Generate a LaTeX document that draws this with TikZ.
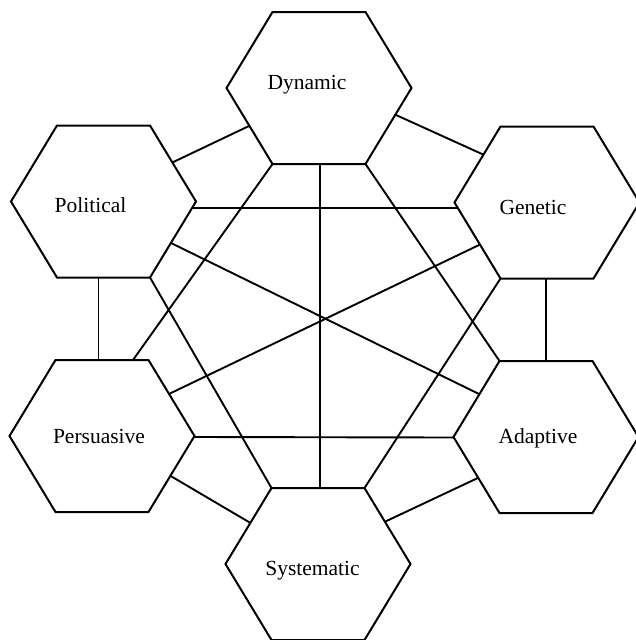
\documentclass[tikz,border=0pt]{standalone}
\usepackage{fontspec}
\setmainfont{Liberation Serif}
\usetikzlibrary{calc,backgrounds}
\begin{document}
\begin{tikzpicture}[x=1pt,y=-1pt,
  hexline/.style={draw=black, fill=white, line width=2pt, line join=miter},
  conn/.style={draw=black, line width=1.9pt, shorten >=-3pt, shorten <=-3pt},
  hextext/.style={font=\fontsize{21.5}{26}\selectfont, inner sep=0pt},
  hexagon/.pic={
    \coordinate (-c) at (0,0);
    \coordinate (-l) at (-92.5,0);
    \coordinate (-tl) at (-46.5,-76);
    \coordinate (-tr) at (46.5,-76);
    \coordinate (-r) at (92.5,0);
    \coordinate (-br) at (46.5,76);
    \coordinate (-bl) at (-46.5,76);
    \path[hexline] (-92.5,0) -- (-46.5,-76) -- (46.5,-76) -- (92.5,0) -- (46.5,76) -- (-46.5,76) -- cycle;
  }]
\useasboundingbox (0,0) rectangle (635,640);

% hexagons
\pic (dyn) at (319,88) {hexagon};
\pic (pol) at (103.5,201.5) {hexagon};
\pic (gen) at (547,202.5) {hexagon};
\pic (pers) at (102,436) {hexagon};
\pic (ada) at (546,437) {hexagon};
\pic (sys) at (318,564) {hexagon};

% connectors
\begin{scope}[on background layer]
\draw[conn] ($(dyn-c)+(77,27)$) -- ($(gen-c)+(-65,-48.5)$);
\draw[conn] ($(dyn-c)+(-70,38)$) -- ($(pol-c)+(70.5,-39.8)$);
\draw[conn] ($(dyn-c)+(1,76)$) -- ($(sys-c)+(2,-76)$);
\draw[conn] (dyn-bl) -- ($(pers-c)+(31,-76)$);
\draw[conn] (dyn-br) -- (ada-tl);
\draw[conn] ($(pol-c)+(88.5,6.5)$) -- ($(gen-c)+(-90,5.5)$);
\draw[conn] ($(pol-c)+(-5,76)$) -- ($(pers-c)+(-3.5,-76)$);
\draw[conn] ($(pol-c)+(67.5,41.5)$) -- ($(ada-c)+(-67,-43)$);
\draw[conn] (pol-br) -- (sys-tl);
\draw[conn] ($(gen-c)+(-68,42.5)$) -- ($(pers-c)+(69,-43)$);
\draw[conn] ($(gen-c)+(-1,76)$) -- ($(ada-c)+(0,-76)$);
\draw[conn] (gen-bl) -- (sys-tr);
\draw[conn] ($(pers-c)+(92,1)$) -- ($(ada-c)+(-93,0.5)$);
\draw[conn] ($(pers-c)+(68.7,40)$) -- ($(sys-c)+(-69.7,-42.3)$);
\draw[conn] ($(ada-c)+(-66.7,40.3)$) -- ($(sys-c)+(67,-42.3)$);
\end{scope}

% labels
\node[hextext] (dyntext) at ($(dyn-c)+(-12,-3)$) {Dynamic};
\node[hextext] (poltext) at ($(pol-c)+(-13,3.5)$) {Political};
\node[hextext] (gentext) at ($(gen-c)+(-14,4.5)$) {Genetic};
\node[hextext] (perstext) at ($(pers-c)+(-3,0)$) {Persuasive};
\node[hextext] (adatext) at ($(ada-c)+(-8,1)$) {Adaptive};
\node[hextext] (systext) at ($(sys-c)+(-5.5,7)$) {Systematic};
\end{tikzpicture}
\end{document}
